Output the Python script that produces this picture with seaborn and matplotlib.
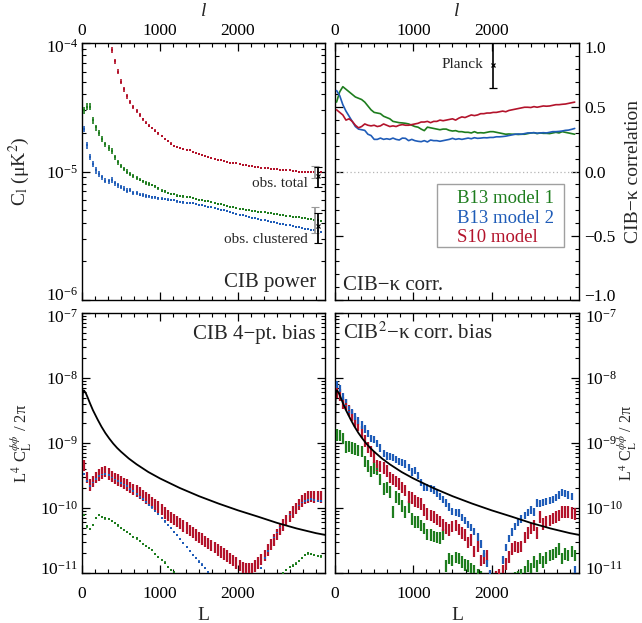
import numpy as np
import matplotlib
matplotlib.use("Agg")
import matplotlib.pyplot as plt
import seaborn as sns
from matplotlib.ticker import (FixedLocator, MultipleLocator, LogLocator,
                               NullFormatter, FuncFormatter,
                               LogFormatterSciNotation)
from matplotlib.patches import Rectangle
from matplotlib.transforms import ScaledTranslation

# ---------------------------------------------------------------- data
# multipole bin centres (bins of width 40)
ell = np.arange(20, 3100, 40)

# CIB power spectra, units of 1e-6 uK^2
tl_s10 = [900, 600, 420, 320, 250, 200, 160, 132, 108, 88,
          72, 60, 50, 43.5, 38.5, 35, 32, 29.5, 27.5, 25.5,
          24, 22.8, 21.8, 20.8, 19.8, 18.9, 18.0, 17.2, 16.5, 15.9,
          15.6, 15.2, 14.9, 14.8, 14.7, 14.3, 13.9, 13.6, 13.4, 13.1,
          12.9, 12.7, 12.6, 12.3, 12.25, 12.0, 11.95, 11.7, 11.75, 11.55,
          11.45, 11.3, 11.25, 11.05, 11.0, 10.85, 10.9, 10.7, 10.6, 10.62,
          10.5, 10.5, 10.4, 10.3, 10.25, 10.2, 10.2, 10.1, 10.05, 10.0,
          10.0, 9.95, 9.9, 9.9, 9.85, 9.9, 9.9]
tl_b13_m1 = [30, 32, 32, 25, 22, 20, 18, 16.3, 15.2, 14.4,
             12.9, 11.8, 11.0, 10.5, 10.0, 9.5, 9.2, 8.95, 8.65, 8.4,
             8.15, 8.0, 7.85, 7.65, 7.4, 7.1, 7.0, 6.8, 6.7, 6.65,
             6.5, 6.45, 6.4, 6.35, 6.3, 6.25, 6.15, 6.05, 5.95, 5.9,
             5.85, 5.8, 5.7, 5.6, 5.55, 5.45, 5.4, 5.3, 5.26, 5.2,
             5.15, 5.1, 5.05, 5.0, 4.95, 4.92, 4.88, 4.84, 4.8, 4.77,
             4.72, 4.7, 4.65, 4.6, 4.56, 4.52, 4.49, 4.46, 4.43, 4.4,
             4.37, 4.33, 4.3, 4.26, 4.22, 4.18, 4.15]
tl_b13_m2 = [21.5, 16, 13, 11.5, 10.2, 9.6, 9.0, 8.5, 8.4, 8.6,
             8.1, 7.8, 7.6, 7.35, 7.1, 7.2, 6.85, 6.8, 6.6, 6.55,
             6.45, 6.4, 6.3, 6.3, 6.2, 6.15, 6.1, 6.05, 6.0, 6.0,
             5.85, 5.8, 5.75, 5.7, 5.68, 5.65, 5.6, 5.5, 5.45, 5.35,
             5.25, 5.3, 5.2, 5.1, 5.05, 5.0, 4.9, 4.8, 4.73, 4.7,
             4.6, 4.55, 4.5, 4.45, 4.38, 4.32, 4.27, 4.22, 4.17, 4.13,
             4.08, 4.02, 3.98, 3.93, 3.88, 3.84, 3.8, 3.76, 3.72, 3.68,
             3.63, 3.6, 3.56, 3.52, 3.48, 3.44, 3.4]
tl_rel_err = [0.06, 0.06, 0.06, 0.055, 0.055, 0.05, 0.05, 0.05, 0.05, 0.05,
              0.045, 0.045, 0.04, 0.04, 0.04, 0.035, 0.035, 0.035, 0.03, 0.03,
              0.03, 0.03, 0.025, 0.025, 0.025, 0.025, 0.02, 0.02, 0.02, 0.02,
              0.02, 0.02, 0.02, 0.02, 0.018, 0.018, 0.018, 0.018, 0.016, 0.016,
              0.016, 0.016, 0.015, 0.015, 0.015, 0.015, 0.014, 0.014, 0.014, 0.014,
              0.013, 0.013, 0.013, 0.013, 0.013, 0.013, 0.012, 0.012, 0.012, 0.012,
              0.012, 0.012, 0.012, 0.012, 0.012, 0.012, 0.012, 0.012, 0.012, 0.012,
              0.012, 0.012, 0.012, 0.012, 0.012, 0.012, 0.012]

# observed CIB power (units 1e-6 uK^2): [ell, value, error]
obs_total_grey = [2990, 9.93, 1.1]
obs_total_black = [3030, 9.25, 1.64]
obs_clust_grey = [2990, 4.3, 0.97]
obs_clust_black = [3030, 3.75, 0.99]

# CIB - kappa correlation coefficient
tr_b13_m1 = [0.54, 0.62, 0.66, 0.64, 0.62, 0.60, 0.58, 0.57, 0.56, 0.54,
             0.51, 0.48, 0.46, 0.455, 0.45, 0.43, 0.42, 0.41, 0.39, 0.385,
             0.38, 0.378, 0.375, 0.37, 0.36, 0.35, 0.345, 0.33, 0.318, 0.345,
             0.34, 0.335, 0.33, 0.325, 0.33, 0.33, 0.32, 0.315, 0.318, 0.31,
             0.31, 0.305, 0.305, 0.30, 0.31, 0.30, 0.302, 0.30, 0.305, 0.31,
             0.31, 0.305, 0.30, 0.295, 0.29, 0.292, 0.29, 0.29, 0.288, 0.29,
             0.29, 0.295, 0.30, 0.302, 0.295, 0.30, 0.297, 0.297, 0.295, 0.30,
             0.305, 0.30, 0.31, 0.305, 0.30, 0.295, 0.29]
tr_b13_m2 = [0.63, 0.59, 0.52, 0.47, 0.43, 0.39, 0.35, 0.33, 0.325, 0.32,
             0.29, 0.28, 0.25, 0.25, 0.26, 0.25, 0.255, 0.25, 0.26, 0.25,
             0.245, 0.26, 0.258, 0.24, 0.25, 0.24, 0.235, 0.232, 0.24, 0.23,
             0.245, 0.24, 0.24, 0.235, 0.24, 0.245, 0.25, 0.258, 0.25, 0.255,
             0.25, 0.255, 0.26, 0.255, 0.263, 0.258, 0.26, 0.263, 0.262, 0.265,
             0.265, 0.27, 0.27, 0.272, 0.275, 0.28, 0.285, 0.29, 0.292, 0.29,
             0.295, 0.30, 0.30, 0.302, 0.298, 0.30, 0.302, 0.30, 0.305, 0.31,
             0.31, 0.312, 0.315, 0.32, 0.322, 0.328, 0.335]
tr_s10 = [0.48, 0.46, 0.44, 0.40, 0.41, 0.39, 0.36, 0.34, 0.35, 0.37,
          0.36, 0.355, 0.36, 0.35, 0.355, 0.37, 0.36, 0.35, 0.355, 0.35,
          0.36, 0.365, 0.36, 0.36, 0.365, 0.37, 0.375, 0.385, 0.385, 0.39,
          0.38, 0.39, 0.39, 0.40, 0.395, 0.40, 0.405, 0.41, 0.40, 0.415,
          0.425, 0.42, 0.43, 0.44, 0.435, 0.44, 0.45, 0.45, 0.455, 0.455,
          0.46, 0.46, 0.465, 0.47, 0.465, 0.475, 0.48, 0.485, 0.49, 0.495,
          0.50, 0.50, 0.498, 0.505, 0.50, 0.505, 0.51, 0.508, 0.51, 0.515,
          0.52, 0.52, 0.523, 0.525, 0.53, 0.535, 0.54]
planck = [2020, 0.83, 0.18]  # ell, value, error

# lensing-bias panels, units of 1e-11
bl_s10 = [46, 30, 23, 26, 30, 33, 35, 37, 34, 31,
          29, 27.5, 26, 24.5, 23, 21, 19.5, 18.5, 17.5, 16,
          14.5, 13.5, 12.5, 11.5, 10.5, 9.6, 8.6, 7.9, 7.3, 6.8,
          6.3, 5.9, 5.4, 5.0, 4.6, 4.3, 3.9, 3.6, 3.4, 3.1,
          2.9, 2.7, 2.5, 2.3, 2.15, 2.0, 1.85, 1.7, 1.58, 1.45,
          1.32, 1.25, 1.2, 1.18, 1.2, 1.3, 1.45, 1.65, 1.9, 2.3,
          2.8, 3.3, 4.0, 4.8, 5.6, 6.5, 7.6, 8.8, 10.0, 11.5,
          13.0, 14.2, 15.0, 15.2, 15.0, 15.2, 15.0]
bl_b13_m2 = [33, 26, 22, 25, 28, 31, 33, 33.5, 32, 29.5,
             27.5, 26, 24.5, 23, 21.5, 19.5, 18, 16.5, 15, 13.8,
             12.5, 11.3, 10.2, 9.0, 8.0, 7.0, 6.2, 5.5, 4.9, 4.3,
             3.8, 3.3, 2.9, 2.5, 2.2, 1.9, 1.7, 1.5, 1.35, 1.2,
             1.05, 0.9, 0.75, 0.6, 0.5, 0.4, 0.3, 0.25, 0.2, 0.15,
             0.12, 0.1, 0.12, 0.15, 0.25, 0.4, 0.7, 1.2, 1.7, 2.2,
             2.8, 3.4, 4.1, 4.9, 5.7, 6.6, 7.7, 8.8, 10.0, 11.2,
             12.2, 13.0, 13.5, 13.6, 13.4, 13.0, 12.7]
bl_b13_m1 = [7.8, 5.2, 4.8, 5.5, 7.0, 7.8, 7.2, 6.9, 6.7, 6.3,
             5.9, 5.4, 4.9, 4.6, 4.3, 4.0, 3.6, 3.4, 3.1, 2.8,
             2.6, 2.45, 2.25, 1.95, 1.75, 1.6, 1.45, 1.25, 1.12, 1.02,
             0.9, 0.8, 0.7, 0.62, 0.55, 0.5, 0.45, 0.4, 0.36, 0.33,
             0.3, 0.27, 0.25, 0.22, 0.2, 0.18, 0.16, 0.15, 0.14, 0.13,
             0.13, 0.13, 0.14, 0.15, 0.17, 0.2, 0.24, 0.3, 0.37, 0.45,
             0.55, 0.66, 0.78, 0.9, 1.0, 1.12, 1.25, 1.3, 1.4, 1.55,
             1.7, 1.9, 2.0, 1.95, 1.9, 1.85, 1.8]
br_b13_m2 = [800, 700, 520, 420, 330, 300, 260, 220, 190, 165,
             140, 118, 115, 100, 85, 70, 64, 62, 60, 56,
             52, 50, 48, 42, 36, 38, 32, 25, 21, 21,
             20, 19, 17, 15, 13.5, 12, 10.5, 9, 8.6, 8.4,
             7.2, 6.5, 5.6, 5.0, 4.4, 3.6, 2.8, 2.0, 1.4, 1.0,
             0.7, 0.6, 0.9, 1.6, 2.5, 3.4, 4.3, 5.2, 6.0, 6.8,
             7.8, 8.6, 9.4, 8.8, 12.0, 11.8, 12.2, 12.8, 13.2, 13.6,
             14.5, 16.0, 17.6, 17.0, 16.0, 15.0, 1.15]
br_s10 = [620, 560, 420, 400, 320, 270, 220, 190, 150, 110,
          87, 75, 62, 46, 44, 42, 38, 30, 28, 26,
          24, 21, 19, 15, 14.5, 13, 12.5, 11.8, 9.5, 8.3,
          7.8, 7.4, 6.8, 6.3, 5.6, 5.0, 4.7, 5.3, 5.5, 4.8,
          4.2, 3.9, 3.0, 3.3, 2.2, 2.6, 1.6, 1.7, 1.9, 0.9,
          0.8, 0.9, 0.95, 1.1, 1.4, 1.8, 2.4, 2.6, 2.5, 2.6,
          3.6, 4.2, 4.9, 5.5, 4.2, 7.4, 5.8, 6.3, 6.6, 7.0,
          7.4, 7.9, 8.8, 8.9, 8.8, 8.6, 8.3]
br_b13_m1 = [135, 133, 120, 88, 90, 85, 83, 78, 75, 53,
             45, 37, 42, 40, 28, 20, 21, 18, 8.8, 15,
             14, 11, 8.8, 10.5, 6.9, 6.2, 6.2, 5.5, 4.9, 4.0,
             3.9, 3.7, 3.6, 3.5, 4.0, 1.3, 1.7, 1.6, 1.78, 1.7,
             1.5, 1.35, 1.3, 1.2, 1.1, 0.95, 0.9, 0.8, 0.75, 0.7,
             0.7, 0.65, 0.7, 0.7, 0.72, 0.75, 0.8, 0.85, 0.9, 0.95,
             1.05, 1.3, 1.2, 1.5, 1.3, 1.7, 1.5, 1.75, 1.9, 1.95,
             2.1, 2.4, 1.7, 2.0, 1.9, 2.2, 1.9]
# fractional 1-sigma errors of the bias panels
bl_frac_err = {"s10": 0.2, "m1": 0.04, "m2": 0.04}
br_frac_err = {"s10": 0.2, "m1": 0.2, "m2": 0.13}

# lensing potential signal L^4 C_L^phiphi / 2pi
theory_L = [2, 5, 8, 12, 18, 25, 35, 50, 70, 100, 140, 200, 250, 300, 350,
            400, 450, 500, 600, 700, 850, 1000, 1250, 1500, 1750, 2000,
            2250, 2500, 2750, 3000, 3120]
theory_v = [1.8e-9, 3.8e-9, 5.0e-9, 6.0e-9, 6.45e-9, 6.4e-9, 6.2e-9, 5.8e-9,
            5.1e-9, 4.15e-9, 3.2e-9, 2.3e-9, 1.78e-9, 1.42e-9, 1.17e-9,
            9.8e-10, 8.4e-10, 7.35e-10, 5.77e-10, 4.7e-10, 3.58e-10,
            2.85e-10, 2.04e-10, 1.52e-10, 1.17e-10, 9.2e-11, 7.4e-11,
            5.9e-11, 4.85e-11, 4.1e-11, 3.85e-11]

legend_labels = ["B13 model 1", "B13 model 2", "S10 model"]

# ---------------------------------------------------------------- style
GREEN = "#1e7d1e"
BLUE = "#1f5cb8"
RED = "#b3132b"

sns.set_theme(style="ticks")
plt.rcParams["font.family"] = ["Liberation Serif", "DejaVu Serif"]
plt.rcParams["mathtext.fontset"] = "stix"
plt.rcParams["axes.unicode_minus"] = True

W, H = 642, 623
fig = plt.figure(figsize=(W / 100, H / 100), dpi=100)
fig.patch.set_facecolor("white")


def px_axes(x0, y0, x1, y1):
    return fig.add_axes([x0 / W, 1 - y1 / H, (x1 - x0) / W, (y1 - y0) / H])


ax_tl = px_axes(82, 43, 325, 300)
ax_tr = px_axes(335, 43, 579, 300)
ax_bl = px_axes(82, 313, 325, 573)
ax_br = px_axes(335, 313, 579, 573)

TICK_FS = 12.5


def base_style(ax, top, right):
    ax.set_facecolor("white")
    for s in ax.spines.values():
        s.set_linewidth(1.0)
        s.set_color("black")
    ax.set_xlim(0, 3115)
    ax.xaxis.set_major_locator(FixedLocator([0, 1000, 2000]))
    ax.xaxis.set_minor_locator(MultipleLocator(1000 / 6))
    ax.tick_params(which="both", direction="in", top=True, bottom=True,
                   left=True, right=True, colors="black",
                   labelsize=TICK_FS)
    ax.tick_params(which="major", length=6, width=0.9)
    ax.tick_params(which="minor", length=3, width=0.8)
    ax.tick_params(axis="x", which="both", pad=3 if top else 9.4,
                   labeltop=top, labelbottom=not top)
    ax.tick_params(axis="y", which="both", pad=4 if right else 3,
                   labelright=right, labelleft=not right)
    ax.grid(False)


def log_y(ax, decades):
    ax.set_yscale("log")
    ax.set_ylim(decades[0], decades[-1])
    ax.yaxis.set_major_locator(FixedLocator(decades))
    ax.yaxis.set_major_formatter(LogFormatterSciNotation())
    ax.yaxis.set_minor_locator(LogLocator(base=10, subs=np.arange(2, 10),
                                          numticks=12))
    ax.yaxis.set_minor_formatter(NullFormatter())


def err_points(ax, x, y, lo, hi, color, elw, msize):
    ax.errorbar(x, y, yerr=[lo, hi], fmt="none", ecolor=color,
                elinewidth=elw, capsize=0, zorder=3)
    sns.scatterplot(x=x, y=y, ax=ax, color=color, marker="s", s=msize,
                    linewidth=0, zorder=4)


# ---------------------------------------------------------------- top-left
for vals, col in [(tl_b13_m2, BLUE), (tl_b13_m1, GREEN), (tl_s10, RED)]:
    y = np.array(vals) * 1e-6
    e = y * np.array(tl_rel_err)
    err_points(ax_tl, ell, y, e, e, col, 1.2, 3)

for obs, col in [(obs_total_grey, "#9a9a9a"), (obs_clust_grey, "#9a9a9a"),
                 (obs_total_black, "black"), (obs_clust_black, "black")]:
    ax_tl.errorbar([obs[0]], [obs[1] * 1e-6], yerr=[[obs[2] * 1e-6]],
                   fmt="x" if col == "black" else "none", color=col,
                   ms=3, mew=0.8, elinewidth=1.3, capsize=2.6, capthick=1.3,
                   zorder=5)

base_style(ax_tl, top=True, right=False)
log_y(ax_tl, [1e-6, 1e-5, 1e-4])
ax_tl.xaxis.set_label_position("top")
ax_tl.set_xlabel("l", fontstyle="italic", fontsize=14, labelpad=5)
ax_tl.set_ylabel("C$_{\\rm l}$ (μK$^2$)", fontsize=14)
ax_tl.yaxis.set_label_coords(-0.205, 0.5)
ax_tl.text(0.963, 0.052, "CIB power", transform=ax_tl.transAxes,
           ha="right", va="baseline", fontsize=15)
ax_tl.text(0.93, 0.441, "obs. total", transform=ax_tl.transAxes,
           ha="right", va="baseline", fontsize=11)
ax_tl.text(0.93, 0.221, "obs. clustered", transform=ax_tl.transAxes,
           ha="right", va="baseline", fontsize=11)

# ---------------------------------------------------------------- top-right
ax_tr.axhline(0, color="#b5b5b5", lw=0.9, ls=(0, (1, 2)), zorder=1)
for vals, col in [(tr_b13_m1, GREEN), (tr_b13_m2, BLUE), (tr_s10, RED)]:
    sns.lineplot(x=ell, y=vals, ax=ax_tr, color=col, lw=1.2,
                 estimator=None, sort=False, zorder=3)
ax_tr.errorbar([planck[0]], [planck[1]], yerr=[[planck[2]]], fmt="x",
               color="black", ms=3, mew=0.9, elinewidth=1.2, capsize=2.6,
               capthick=1.2, zorder=5)
ax_tr.text(1900, planck[1], "Planck", ha="right", va="center", fontsize=11)

base_style(ax_tr, top=True, right=True)
ax_tr.set_ylim(-1, 1)
ax_tr.yaxis.set_major_locator(FixedLocator([-1, -0.5, 0, 0.5, 1.0]))
ax_tr.yaxis.set_minor_locator(MultipleLocator(0.1))
ax_tr.yaxis.set_major_formatter(
    FuncFormatter(lambda v, _: f"{v:.1f}".replace("-", "\u2212")))
ax_tr.xaxis.set_label_position("top")
ax_tr.set_xlabel("l", fontstyle="italic", fontsize=14, labelpad=5)
ax_tr.yaxis.set_label_position("right")
ax_tr.set_ylabel("CIB\u2212κ correlation", fontsize=14)
ax_tr.yaxis.set_label_coords(1.19, 0.5)
ax_tr.text(0.032, 0.04, "CIB\u2212κ corr.", transform=ax_tr.transAxes,
           ha="left", va="baseline", fontsize=15)

ax_tr.add_patch(Rectangle((0.42, 0.206), 0.518, 0.245,
                          transform=ax_tr.transAxes, fill=False,
                          ec="#a0a0a0", lw=1.0, zorder=6))
for lab, col, yb in zip(legend_labels, [GREEN, BLUE, RED],
                        [0.376, 0.301, 0.227]):
    ax_tr.text(0.50, yb, lab, color=col, transform=ax_tr.transAxes,
               ha="left", va="baseline", fontsize=13.5, zorder=7)

# ---------------------------------------------------------------- bottom panels
ylabel_bias = "L$^4$ C$_{\\rm L}^{\\phi\\phi}$ / 2π"
bias_decades = [1e-11, 1e-10, 1e-9, 1e-8, 1e-7]

for ax, series, frac, right in [
        (ax_bl, [("m1", bl_b13_m1, GREEN), ("m2", bl_b13_m2, BLUE),
                 ("s10", bl_s10, RED)], bl_frac_err, False),
        (ax_br, [("m1", br_b13_m1, GREEN), ("s10", br_s10, RED),
                 ("m2", br_b13_m2, BLUE)], br_frac_err, True)]:
    for key, vals, col in series:
        y = np.array(vals) * 1e-11
        e = y * frac[key]
        lw = 1.6 if frac[key] > 0.1 else 1.2
        err_points(ax, ell, y, e, e, col, lw, 3)
    sns.lineplot(x=theory_L, y=theory_v, ax=ax, color="black", lw=1.3,
                 estimator=None, sort=False, zorder=6)
    base_style(ax, top=False, right=right)
    log_y(ax, bias_decades)
    ax.set_xlabel("L", fontsize=14, labelpad=3.5)

ax_bl.set_ylabel(ylabel_bias, fontsize=12)
ax_bl.yaxis.set_label_coords(-0.198, 0.5)
ax_bl.text(0.963, 0.899, "CIB 4\u2212pt. bias", transform=ax_bl.transAxes,
           ha="right", va="baseline", fontsize=15)

ax_br.yaxis.set_label_position("right")
ax_br.set_ylabel(ylabel_bias, fontsize=11.5)
ax_br.yaxis.set_label_coords(1.1516, 0.5)
ax_br.text(0.034, 0.899, "CIB$^2$\u2212κ corr. bias", transform=ax_br.transAxes,
           ha="left", va="baseline", fontsize=15)

# nudge the end tick labels inwards so that neighbouring panels do not clash
fig.canvas.draw()


def nudge(ax, index, dy_px):
    tick = ax.yaxis.get_major_ticks()[index]
    off = ScaledTranslation(0, dy_px / 100, fig.dpi_scale_trans)
    for lab in (tick.label1, tick.label2):
        lab.set_transform(lab.get_transform() + off)


nudge(ax_tl, 0, 6)
nudge(ax_tl, 2, -3)
nudge(ax_tr, 0, 5)
nudge(ax_tr, 4, -4)
for ax in (ax_bl, ax_br):
    nudge(ax, 0, 5)
    nudge(ax, 4, -3)

fig.savefig("out.png", dpi=100)
